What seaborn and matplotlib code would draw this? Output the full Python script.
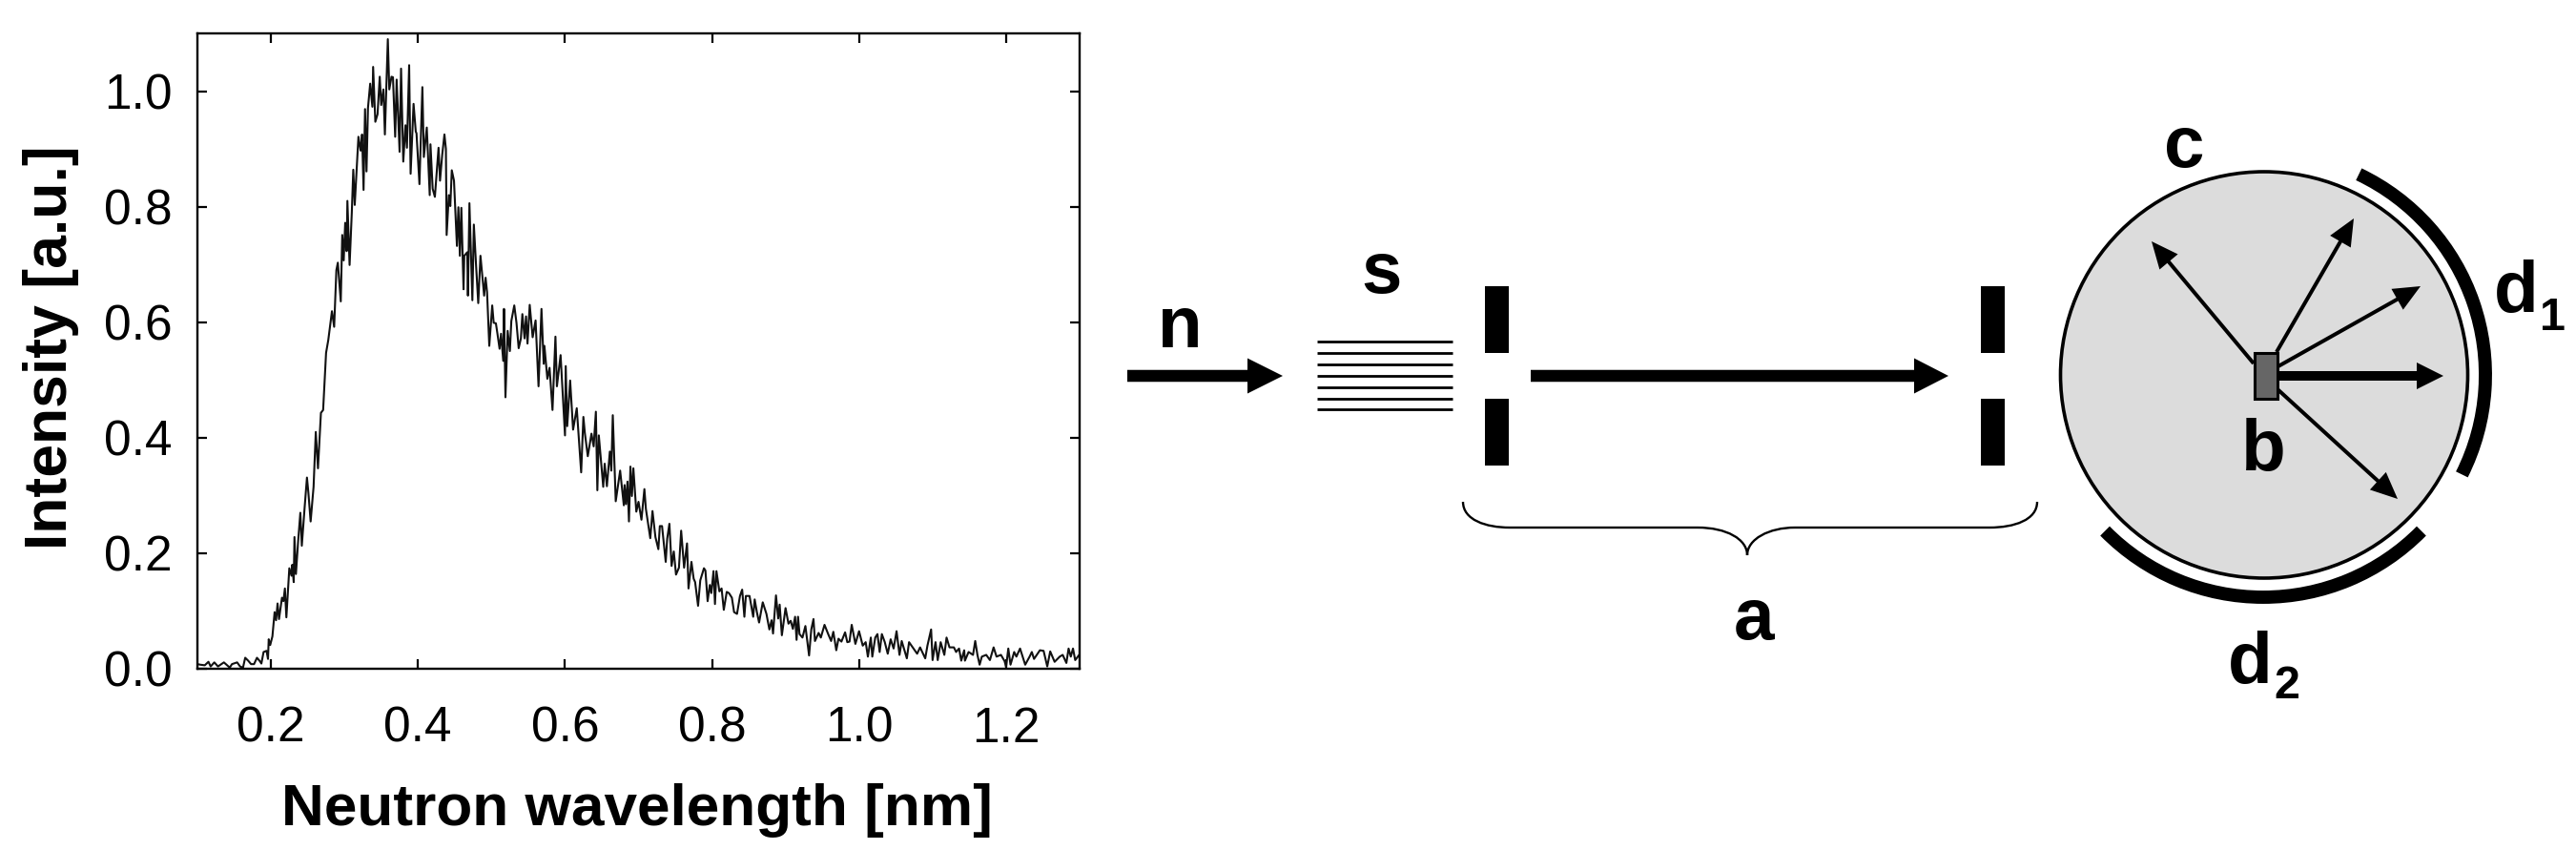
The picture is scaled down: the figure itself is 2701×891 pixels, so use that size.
import seaborn as sns
import matplotlib.pyplot as plt
from matplotlib.patches import Arc, Ellipse, FancyArrow, PathPatch, Rectangle
from matplotlib.path import Path

# spectrum
wavelength = [
    .100, .104, .110, .115, .118, .123, .128, .136, .144, .147, .154, .158, .162, .165, .169, .173, .177, .181, .185, .187,
    .190, .194, .196, .197, .199, .202, .205, .207, .209, .211, .215, .217, .219, .221, .225, .228, .229, .231, .232, .234,
    .237, .240, .242, .246, .249, .251, .254, .258, .261, .264, .268, .271, .275, .278, .280, .283, .286, .289, .291, .295,
    .297, .299, .301, .303, .304, .307, .310, .312, .314, .319, .322, .324, .326, .328, .330, .332, .335, .338, .339, .342,
    .345, .348, .350, .353, .355, .359, .361, .364, .366, .369, .371, .375, .377, .380, .383, .385, .388, .390, .394, .397,
    .398, .402, .406, .408, .412, .416, .417, .420, .423, .428, .430, .433, .436, .438, .439, .442, .444, .446, .449, .453,
    .455, .457, .459, .462, .463, .467, .468, .470, .474, .476, .479, .482, .485, .490, .492, .494, .497, .501, .503, .506,
    .508, .511, .513, .516, .517, .519, .522, .525, .527, .531, .534, .537, .540, .542, .545, .547, .549, .552, .556, .560,
    .564, .568, .571, .572, .576, .579, .583, .587, .589, .594, .600, .601, .603, .607, .611, .616, .622, .625, .627, .631,
    .636, .639, .642, .644, .646, .652, .654, .657, .661, .663, .665, .669, .675, .680, .681, .683, .685, .687, .689, .691,
    .693, .697, .700, .704, .708, .710, .716, .719, .723, .727, .729, .732, .737, .739, .742, .745, .748, .751, .755, .758,
    .762, .766, .768, .772, .775, .777, .781, .784, .789, .791, .794, .797, .799, .802, .804, .806, .810, .813, .816, .820,
    .823, .827, .830, .834, .838, .841, .844, .846, .851, .856, .858, .861, .864, .869, .874, .878, .881, .883, .887, .890,
    .892, .895, .900, .904, .907, .910, .913, .915, .917, .919, .923, .927, .932, .935, .938, .940, .945, .948, .953, .958,
    .962, .965, .969, .972, .976, .981, .984, .987, .990, .995, 1.000, 1.005, 1.009, 1.012, 1.016, 1.018, 1.022, 1.025, 1.028, 1.031,
    1.035, 1.039, 1.043, 1.047, 1.051, 1.055, 1.058, 1.061, 1.065, 1.068, 1.074, 1.079, 1.083, 1.090, 1.093, 1.098, 1.100, 1.104, 1.107, 1.111,
    1.116, 1.119, 1.123, 1.129, 1.132, 1.136, 1.139, 1.143, 1.144, 1.149, 1.155, 1.158, 1.161, 1.164, 1.167, 1.173, 1.178, 1.183, 1.187, 1.193,
    1.198, 1.200, 1.203, 1.206, 1.211, 1.214, 1.219, 1.226, 1.232, 1.235, 1.238, 1.246, 1.251, 1.256, 1.260, 1.266, 1.273, 1.277, 1.282, 1.285,
    1.288, 1.291, 1.294, 1.300,
]
intensity = [
    .008, .007, .006, .012, .004, .011, .004, .011, .002, .008, .011, .004, .002, .019, .014, .008, .008, .019, .013, .009,
    .029, .031, .017, .051, .041, .056, .098, .084, .113, .086, .123, .117, .139, .089, .174, .161, .180, .150, .228, .164,
    .221, .270, .213, .282, .331, .304, .255, .315, .410, .347, .443, .448, .547, .569, .589, .619, .592, .690, .703, .636,
    .751, .707, .772, .723, .810, .699, .790, .864, .803, .921, .897, .925, .829, .969, .861, .971, 1.013, .973, 1.042, .947,
    .960, 1.025, .976, 1.003, .925, 1.090, 1.003, 1.025, 1.024, .921, 1.020, .895, 1.039, .878, .941, .902, 1.045, .857, .978, .930,
    .927, .839, 1.007, .886, .937, .820, .908, .831, .817, .902, .845, .890, .925, .900, .751, .820, .801, .863, .845, .732,
    .799, .715, .798, .657, .715, .721, .646, .806, .638, .769, .699, .633, .715, .646, .677, .652, .559, .629, .599, .598,
    .581, .554, .580, .533, .623, .470, .585, .550, .602, .629, .599, .555, .572, .614, .572, .610, .563, .630, .574, .603,
    .489, .623, .528, .559, .502, .521, .448, .575, .489, .543, .404, .524, .420, .499, .414, .451, .340, .436, .408, .368,
    .407, .385, .445, .309, .404, .315, .355, .316, .376, .343, .439, .290, .343, .283, .318, .285, .324, .255, .350, .299,
    .347, .272, .289, .258, .311, .277, .226, .273, .228, .207, .247, .247, .185, .225, .251, .178, .203, .163, .175, .239,
    .175, .217, .139, .185, .156, .150, .109, .153, .174, .170, .117, .145, .131, .169, .112, .169, .134, .139, .102, .133,
    .131, .123, .098, .095, .126, .137, .090, .126, .126, .090, .120, .098, .080, .115, .095, .068, .084, .061, .127, .087,
    .111, .058, .105, .078, .083, .069, .090, .050, .090, .060, .054, .074, .023, .068, .086, .048, .062, .054, .076, .060,
    .048, .064, .032, .052, .047, .063, .046, .047, .076, .043, .065, .040, .046, .021, .054, .021, .054, .060, .029, .060,
    .046, .026, .051, .035, .065, .024, .048, .035, .018, .046, .035, .026, .037, .018, .040, .068, .015, .046, .015, .046,
    .024, .054, .037, .037, .029, .035, .014, .032, .014, .029, .024, .048, .024, .007, .021, .024, .015, .037, .021, .024,
    .013, .003, .035, .007, .029, .021, .035, .007, .021, .029, .017, .032, .031, .004, .030, .012, .021, .024, .010, .035,
    .021, .035, .015, .025,
]
x_ticks = [0.2, 0.4, 0.6, 0.8, 1.0, 1.2]
y_ticks = [0.0, 0.2, 0.4, 0.6, 0.8, 1.0]

# schematic, in picture pixels
slit_x = [1557, 2077]
slit_y = [300, 418]
foil_y = [358, 370, 382, 394, 406, 418, 429]
scatter_tips = [(2256, 253), (2468, 229), (2538, 300), (2514, 523)]
scatter_tails = [(2363, 381), (2387, 369), (2387, 385), (2388, 408)]
labels = [('n', 1237, 364), ('s', 1449, 307), ('a', 1839, 670), ('c', 2290, 175),
          ('b', 2373, 493), ('d', 2638, 327), ('d', 2359, 716)]
sub_labels = [('1', 2677, 346), ('2', 2398, 732)]

sns.set_theme(style='ticks')
plt.rcParams['font.family'] = ['Liberation Sans', 'DejaVu Sans']

W, H = 2701, 891
fig = plt.figure(figsize=(W / 100, H / 100), dpi=100)
ax = fig.add_axes([207 / W, 1 - 701 / H, 925 / W, 666 / H])

sns.lineplot(x=wavelength, y=intensity, ax=ax, color='#111111', lw=1.5, sort=False, estimator=None)
ax.set_xlim(0.1, 1.3)
ax.set_ylim(0, 1.1)
ax.set_xticks(x_ticks)
ax.set_yticks(y_ticks)
ax.tick_params(direction='in', top=True, right=True, length=7, width=1.6, labelsize=37, colors='black')
ax.tick_params(axis='x', pad=28)
ax.tick_params(axis='y', pad=19)
for s in ax.spines.values():
    s.set_linewidth(1.7)
    s.set_color('black')
ax.set_xlabel('Neutron wavelength [nm]', fontsize=44.7, fontweight='bold', color='black')
ax.set_ylabel('Intensity [a.u.]', fontsize=45, fontweight='bold', color='black')
ax.xaxis.set_label_coords(0.498, -0.18)
ax.yaxis.set_label_coords(-0.134, 0.505)

# overlay for the instrument sketch
sk = fig.add_axes([0, 0, 1, 1], facecolor='none')
sk.set_xlim(0, W)
sk.set_ylim(H, 0)
sk.axis('off')


def arrow(x0, y0, x1, y1, width, head_w, head_l):
    sk.add_patch(FancyArrow(x0, y0, x1 - x0, y1 - y0, width=width, head_width=head_w, head_length=head_l,
                            length_includes_head=True, fc='black', ec='none', lw=0))


arrow(1182, 394, 1345, 394, 12.5, 37, 37)
arrow(1605, 394, 2043, 394, 12.5, 37, 36)

for y in foil_y:
    sk.plot([1381, 1523], [y, y], color='black', lw=2, solid_capstyle='butt')

for x in slit_x:
    for y in slit_y:
        sk.add_patch(Rectangle((x, y), 25, 70, fc='black', ec='none'))

brace = [(1534, 526), (1534, 545), (1558, 553), (1583, 553), (1780, 553), (1810, 553), (1832, 565), (1832, 582),
         (1832, 565), (1855, 553), (1882, 553), (2086, 553), (2112, 553), (2136, 545), (2136, 526)]
codes = [Path.MOVETO, Path.CURVE4, Path.CURVE4, Path.CURVE4, Path.LINETO, Path.CURVE4, Path.CURVE4, Path.CURVE4,
         Path.CURVE4, Path.CURVE4, Path.CURVE4, Path.LINETO, Path.CURVE4, Path.CURVE4, Path.CURVE4]
sk.add_patch(PathPatch(Path(brace, codes), fc='none', ec='black', lw=1.7))

sk.add_patch(Ellipse((2374, 393), 427, 426, fc='#dcdcdc', ec='black', lw=2.6))

# y axis of the overlay is flipped, so the angles run the other way
sk.add_patch(Arc((2373, 393), 466, 466, theta1=-64.5, theta2=26.6, ec='black', lw=10))
sk.add_patch(Arc((2373, 393), 466, 466, theta1=44.6, theta2=135.4, ec='black', lw=10))

for tail, tip in zip(scatter_tails, scatter_tips):
    arrow(tail[0], tail[1], tip[0], tip[1], 4, 25, 28)
arrow(2388, 394, 2562, 394, 10, 28, 28)
sk.add_patch(Rectangle((2364, 370), 24, 48, fc='#666666', ec='black', lw=2.2, zorder=5))

for t, x, y in labels:
    sk.text(x, y, t, fontsize=55, fontweight='bold', ha='center', va='baseline', color='black')
for t, x, y in sub_labels:
    sk.text(x, y, t, fontsize=35, fontweight='bold', ha='center', va='baseline', color='black')

fig.savefig('out.png', dpi=100, facecolor='white')
